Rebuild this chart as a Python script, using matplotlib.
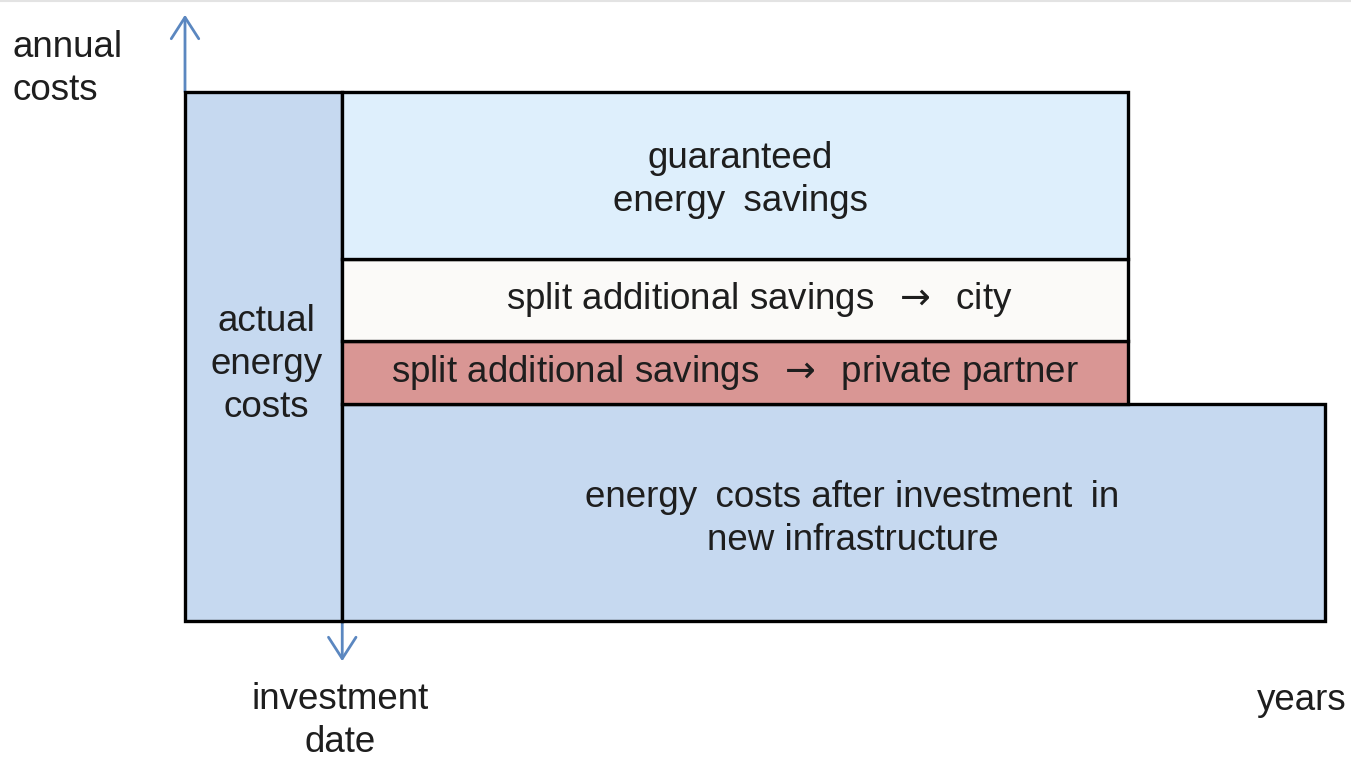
import matplotlib
matplotlib.use("Agg")
import matplotlib.pyplot as plt
from matplotlib.lines import Line2D

plt.rcParams['font.family'] = ['Liberation Sans', 'DejaVu Sans']
plt.rcParams['mathtext.fontset'] = 'dejavusans'

# ---- data (arbitrary units: years on x, annual costs on y) ----
pre_years = 2.0          # period before the investment date
contract_years = 10.0    # contract period with split savings
horizon_years = 12.5     # time horizon shown
actual_cost = 100.0      # actual energy costs before investment
after_cost = 41.0        # energy costs after investment
partner_share = 12.0     # split additional savings -> private partner
city_share = 15.5        # split additional savings -> city
guaranteed = 31.5        # guaranteed energy savings

WSP = "\u2002"
ARROW = WSP + r"$\rightarrow$" + WSP
segment_labels = ["energy" + WSP + "costs after investment" + WSP + "in\nnew infrastructure",
                  "split additional savings" + ARROW + "private partner",
                  "split additional savings" + ARROW + "city",
                  "guaranteed\nenergy" + WSP + "savings"]
segment_values = [after_cost, partner_share, city_share, guaranteed]
segment_widths = [horizon_years, contract_years, contract_years, contract_years]
segment_colors = ["#C6D9F0", "#D99694", "#FBFAF8", "#DEEFFC"]
label_xshift = [0.24, 0.0, 0.3, 0.06]
label_yshift = [-1.2, 0.0, 0.0, -0.9]

fig = plt.figure(figsize=(13.51, 7.58), dpi=100)
ax = fig.add_axes([185/1351, 137/758, 1140/1351, 529/758])
ax.set_xlim(-pre_years, horizon_years)
ax.set_ylim(0, actual_cost)
ax.axis('off')

# faint line along the top edge
fig.add_artist(Line2D([0, 1], [1 - 1/758, 1 - 1/758], transform=fig.transFigure,
                      color="#E3E3E3", lw=1.5))

txt_color = "#1E1E1E"
fs = 26.5
edge_lw = 2.4
ls = 1.3

# actual energy costs box
ax.bar(-pre_years, actual_cost, width=pre_years, bottom=0, align='edge',
       color="#C6D9F0", edgecolor="black", linewidth=edge_lw, zorder=2, clip_on=False)
ax.text(-pre_years/2 + 0.04, actual_cost*0.485, "actual\nenergy\ncosts", ha='center', va='center',
        fontsize=fs, color=txt_color, linespacing=ls, zorder=5)

bottom = 0.0
for lab, val, w, col, dx, dy in zip(segment_labels, segment_values, segment_widths,
                                    segment_colors, label_xshift, label_yshift):
    ax.bar(0, val, width=w, bottom=bottom, align='edge', color=col,
           edgecolor="black", linewidth=edge_lw, zorder=2, clip_on=False)
    ax.text(w/2 + dx, bottom + val/2 + dy, lab, ha='center', va='center',
            fontsize=fs, color=txt_color, linespacing=ls, zorder=5)
    bottom += val

arrow_col = "#5B87C0"
astyle = '->,head_length=0.7,head_width=0.45'
# y axis arrow
ax.annotate("", xy=(-pre_years, actual_cost + 14.6), xytext=(-pre_years, actual_cost),
            arrowprops=dict(arrowstyle=astyle, color=arrow_col, lw=2.0,
                            shrinkA=0, shrinkB=0, mutation_scale=22),
            annotation_clip=False, zorder=1)
# investment date arrow
ax.annotate("", xy=(0, -7.6), xytext=(0, 0),
            arrowprops=dict(arrowstyle=astyle, color=arrow_col, lw=2.0,
                            shrinkA=0, shrinkB=0, mutation_scale=22),
            annotation_clip=False, zorder=1)

# axis labels
fig.text(12/1351, 1 - 69/758, "annual\ncosts", ha='left', va='center',
         fontsize=fs, color=txt_color, linespacing=ls)
fig.text(340/1351, 1 - 721/758, "investment\ndate", ha='center', va='center',
         fontsize=fs, color=txt_color, linespacing=ls)
fig.text(1347/1351, 1 - 700/758, "years", ha='right', va='center',
         fontsize=fs, color=txt_color)

fig.savefig("out.png", dpi=100)
